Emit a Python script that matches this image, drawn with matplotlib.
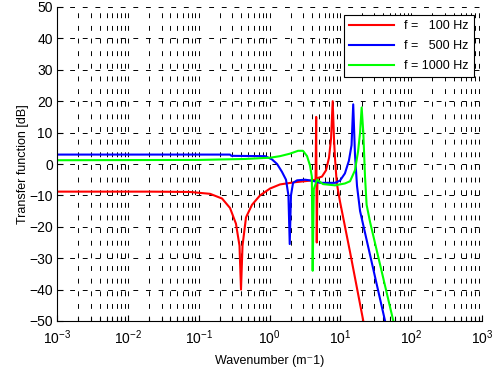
import matplotlib
matplotlib.use("Agg")
import matplotlib.pyplot as plt
import numpy as np
from matplotlib.ticker import FixedLocator, NullFormatter

plt.rcParams['font.family'] = ['Liberation Sans', 'DejaVu Sans']
plt.rcParams['font.size'] = 9

# wavenumber (1/m) and transfer function (dB)
k_red = [0.001, 0.02, 0.075, 0.145, 0.214, 0.277, 0.336, 0.377, 0.396, 0.416,
         0.466, 0.566, 0.735, 1.02, 1.41, 2.29, 3.73, 4.47, 4.56, 4.65, 4.75,
         5.51, 6.28, 6.92, 7.39, 7.8, 8.14, 8.4, 8.9, 9.9, 13.7, 21.1]
tf_red = [-8.8, -8.8, -8.9, -9.5, -11, -14, -19, -26, -40, -26,
          -17, -13, -10, -7.8, -6.5, -5.8, -5.3, -5, 15, -25, -4.5,
          -4, -2, 2, 8, 20, 8, 2, -6, -12, -28, -50]

k_blue = [0.001, 0.277, 0.29, 0.865, 1.08, 1.28, 1.50, 1.71, 1.85, 1.93, 2.01,
          2.15, 2.45, 3.17, 3.98, 5.16, 8.41, 9.89, 11.6, 13.2, 14.4, 15.2,
          16.1, 17.2, 19.0, 42.8]
tf_blue = [3.0, 3.0, 2.6, 2.5, 1.5, 0, -2.5, -5, -10, -25.5, -10,
           -6, -5.2, -5.0, -5.3, -6, -6, -5.3, -3, 1, 6, 19,
           3, -7, -15, -50]

k_green = [0.001, 0.104, 0.451, 1.02, 1.41, 1.95, 2.53, 2.97, 3.39, 3.73, 3.96,
           4.07, 4.22, 4.69, 5.69, 8.41, 11.6, 13.7, 16.1, 17.8, 19.0, 20.0,
           21.1, 22.3, 23.5, 26.3, 56.0]
tf_green = [1.2, 1.3, 1.6, 2.0, 2.5, 3.3, 4.2, 4.2, 2.5, -0.5, -4,
            -34, -8, -5, -6.4, -6.8, -6.2, -5.5, -2, 4, 10, 18,
            10, -4, -13, -18.5, -50]

labels = ['f =   100 Hz', 'f =   500 Hz', 'f = 1000 Hz']
decades = [1e-3, 1e-2, 1e-1, 1e0, 1e1, 1e2, 1e3]
yticks = np.arange(-50, 51, 10)

fig = plt.figure(figsize=(4.98, 3.74), dpi=100)
ax = fig.add_axes([57/498, 53/374, 425/498, 314/374])

ax.semilogx(k_red, tf_red, color=(1, 0, 0), lw=1.5, label=labels[0])
ax.semilogx(k_blue, tf_blue, color=(0, 0, 1), lw=1.5, label=labels[1])
ax.semilogx(k_green, tf_green, color=(0, 1, 0), lw=1.5, label=labels[2])

ax.set_xlim(decades[0], decades[-1])
ax.set_ylim(-50, 50)
ax.yaxis.set_major_locator(FixedLocator(yticks))
ax.xaxis.set_major_locator(FixedLocator(decades))
minors = [d * s for d in decades[:-1] for s in range(2, 10)]
ax.xaxis.set_minor_locator(FixedLocator(minors))
ax.xaxis.set_minor_formatter(NullFormatter())

dash = (0, (5, 8))
ax.grid(which='major', axis='both', color='k', ls=dash, lw=0.7)
ax.grid(which='minor', axis='x', color='k', ls=dash, lw=0.7)
ax.set_axisbelow(True)

ax.spines['top'].set_visible(False)
ax.spines['right'].set_visible(False)
ax.tick_params(which='both', direction='in', length=4, width=0.8, colors='k',
               labelsize=10)
ax.tick_params(which='minor', length=3)
ax.tick_params(axis='y', pad=3)
ax.tick_params(axis='x', pad=5)

ax.set_xlabel('Wavenumber (m\u207b1)', labelpad=6)
ax.set_ylabel('Transfer function [dB]', labelpad=0)

leg = ax.legend(loc='upper right', fancybox=False, framealpha=1, edgecolor='k',
                handlelength=3.6, borderaxespad=0.65, labelspacing=0.65)
leg.get_frame().set_linewidth(0.8)

fig.savefig('out.png', dpi=100)
